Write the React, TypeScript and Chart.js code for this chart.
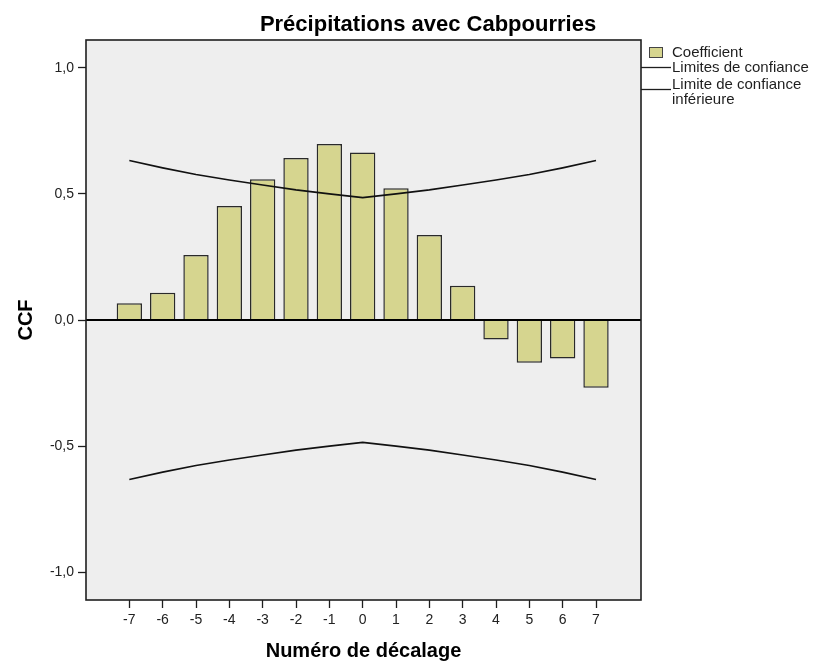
import React, { useEffect, useRef } from 'react';
import { Chart, registerables } from 'chart.js';

Chart.register(...registerables);

const chartTitle = 'Précipitations avec Cabpourries';
const xAxisTitle = 'Numéro de décalage';
const yAxisTitle = 'CCF';

const lags = [-7, -6, -5, -4, -3, -2, -1, 0, 1, 2, 3, 4, 5, 6, 7];
const coefficients = [0.066, 0.108, 0.258, 0.452, 0.558, 0.642, 0.698, 0.664, 0.522, 0.337, 0.136, -0.077, -0.169, -0.153, -0.269];
const upperLimit = [0.632, 0.603, 0.577, 0.555, 0.535, 0.516, 0.5, 0.485, 0.5, 0.516, 0.535, 0.555, 0.577, 0.603, 0.632];
const lowerLimit = [-0.632, -0.603, -0.577, -0.555, -0.535, -0.516, -0.5, -0.485, -0.5, -0.516, -0.535, -0.555, -0.577, -0.603, -0.632];

const yTickValues = [-1, -0.5, 0, 0.5, 1];
const yTickLabels = ['-1,0', '-0,5', '0,0', '0,5', '1,0'];
const xTickLabels = ['-7', '-6', '-5', '-4', '-3', '-2', '-1', '0', '1', '2', '3', '4', '5', '6', '7'];

const legendCoefficient = 'Coefficient';
const legendUpper = 'Limites de confiance';
const legendLower = ['Limite de confiance', 'inférieure'];

const FONT = '"Liberation Sans", Arial, sans-serif';
const BAR_FILL = '#d6d58f';
const INK = '#1e1e1e';

if (typeof document !== 'undefined') {
  document.body.style.margin = '0';
}

const decorPlugin = {
  id: 'decor',
  beforeDraw(chart: any) {
    const { ctx, chartArea: a } = chart;
    ctx.save();
    ctx.fillStyle = '#eeeeee';
    ctx.fillRect(a.left, a.top, a.right - a.left, a.bottom - a.top);
    ctx.restore();
  },
  afterDatasetsDraw(chart: any) {
    const { ctx, chartArea: a } = chart;
    const y0 = chart.scales.y.getPixelForValue(0);
    ctx.save();
    ctx.strokeStyle = '#000';
    ctx.lineWidth = 1.8;
    ctx.beginPath();
    ctx.moveTo(a.left, y0);
    ctx.lineTo(a.right, y0);
    ctx.stroke();
    ctx.restore();
  },
  afterDraw(chart: any) {
    const { ctx, chartArea: a } = chart;
    ctx.save();
    // plot border
    ctx.strokeStyle = INK;
    ctx.lineWidth = 1.6;
    ctx.strokeRect(a.left, a.top, a.right - a.left, a.bottom - a.top);

    // main title
    ctx.fillStyle = '#000';
    ctx.font = `bold 22px ${FONT}`;
    ctx.textAlign = 'center';
    ctx.textBaseline = 'alphabetic';
    ctx.fillText(chartTitle, 428, 30.5);

    // x axis title
    ctx.font = `bold 20px ${FONT}`;
    ctx.fillText(xAxisTitle, (a.left + a.right) / 2, 657);

    // y axis title
    ctx.save();
    ctx.translate(31.5, (a.top + a.bottom) / 2);
    ctx.rotate(-Math.PI / 2);
    ctx.textAlign = 'center';
    ctx.fillText(yAxisTitle, 0, 0);
    ctx.restore();

    // legend
    const lx = a.right;
    ctx.font = `15px ${FONT}`;
    ctx.textAlign = 'left';
    // coefficient swatch
    ctx.fillStyle = BAR_FILL;
    ctx.fillRect(lx + 8.5, a.top + 7.5, 13, 10);
    ctx.strokeStyle = '#444';
    ctx.lineWidth = 1;
    ctx.strokeRect(lx + 8.5, a.top + 7.5, 13, 10);
    ctx.fillStyle = INK;
    ctx.fillText(legendCoefficient, lx + 31, a.top + 16.5);
    // upper
    ctx.strokeStyle = INK;
    ctx.lineWidth = 1.3;
    ctx.beginPath();
    ctx.moveTo(lx, a.top + 27.5);
    ctx.lineTo(lx + 30, a.top + 27.5);
    ctx.stroke();
    ctx.fillText(legendUpper, lx + 31, a.top + 32);
    // lower
    ctx.beginPath();
    ctx.moveTo(lx, a.top + 49.5);
    ctx.lineTo(lx + 30, a.top + 49.5);
    ctx.stroke();
    ctx.fillText(legendLower[0], lx + 31, a.top + 49);
    ctx.fillText(legendLower[1], lx + 31, a.top + 64);
    ctx.restore();
  },
};

export default function App() {
  const canvasRef = useRef<HTMLCanvasElement | null>(null);

  useEffect(() => {
    document.body.style.margin = '0';
    const canvas = canvasRef.current;
    if (!canvas) return;
    const chart = new Chart(canvas, {
      type: 'bar',
      data: {
        datasets: [
          {
            type: 'line',
            label: legendUpper,
            data: lags.map((l, i) => ({ x: l, y: upperLimit[i] })),
            borderColor: '#111',
            borderWidth: 1.6,
            pointRadius: 0,
            fill: false,
            tension: 0,
            order: 1,
          } as any,
          {
            type: 'line',
            label: legendLower.join(' '),
            data: lags.map((l, i) => ({ x: l, y: lowerLimit[i] })),
            borderColor: '#111',
            borderWidth: 1.6,
            pointRadius: 0,
            fill: false,
            tension: 0,
            order: 1,
          } as any,
          {
            type: 'bar',
            label: legendCoefficient,
            data: lags.map((l, i) => ({ x: l, y: coefficients[i] })),
            backgroundColor: BAR_FILL,
            borderColor: '#2a2a2a',
            borderWidth: 1.5,
            categoryPercentage: 1,
            barPercentage: 0.76,
            order: 2,
          } as any,
        ],
      },
      options: {
        responsive: false,
        animation: false,
        devicePixelRatio: 1,
        layout: { padding: { top: 40, right: 173, left: 0, bottom: 0 } },
        plugins: {
          legend: { display: false },
          title: { display: false },
          tooltip: { enabled: false },
        },
        scales: {
          x: {
            type: 'linear',
            min: -8.3,
            max: 8.35,
            offset: false,
            afterBuildTicks: (s: any) => {
              s.ticks = lags.map((v) => ({ value: v }));
            },
            afterFit: (s: any) => {
              s.height = 68;
            },
            grid: {
              display: true,
              drawOnChartArea: false,
              drawTicks: true,
              tickLength: 8,
              tickColor: INK,
              tickWidth: 1.3,
              offset: false,
            },
            border: { display: false },
            ticks: {
              autoSkip: false,
              maxRotation: 0,
              padding: 4,
              color: '#222',
              font: { family: FONT, size: 14 },
              callback: (v: any) => {
                const i = lags.indexOf(Number(v));
                return i >= 0 ? xTickLabels[i] : '';
              },
            },
          } as any,
          y: {
            type: 'linear',
            min: -1.11,
            max: 1.11,
            afterBuildTicks: (s: any) => {
              s.ticks = yTickValues.map((v) => ({ value: v }));
            },
            afterFit: (s: any) => {
              s.width = 86;
            },
            grid: {
              display: true,
              drawOnChartArea: false,
              drawTicks: true,
              tickLength: 8,
              tickColor: INK,
              tickWidth: 1.3,
            },
            border: { display: false },
            ticks: {
              padding: 4,
              color: '#222',
              font: { family: FONT, size: 14 },
              callback: (v: any) => {
                const i = yTickValues.indexOf(Number(v));
                return i >= 0 ? yTickLabels[i] : '';
              },
            },
          } as any,
        },
      },
      plugins: [decorPlugin],
    });
    return () => chart.destroy();
  }, []);

  return (
    <canvas
      ref={canvasRef}
      width={814}
      height={668}
      style={{ display: 'block', width: 814, height: 668 }}
    />
  );
}
